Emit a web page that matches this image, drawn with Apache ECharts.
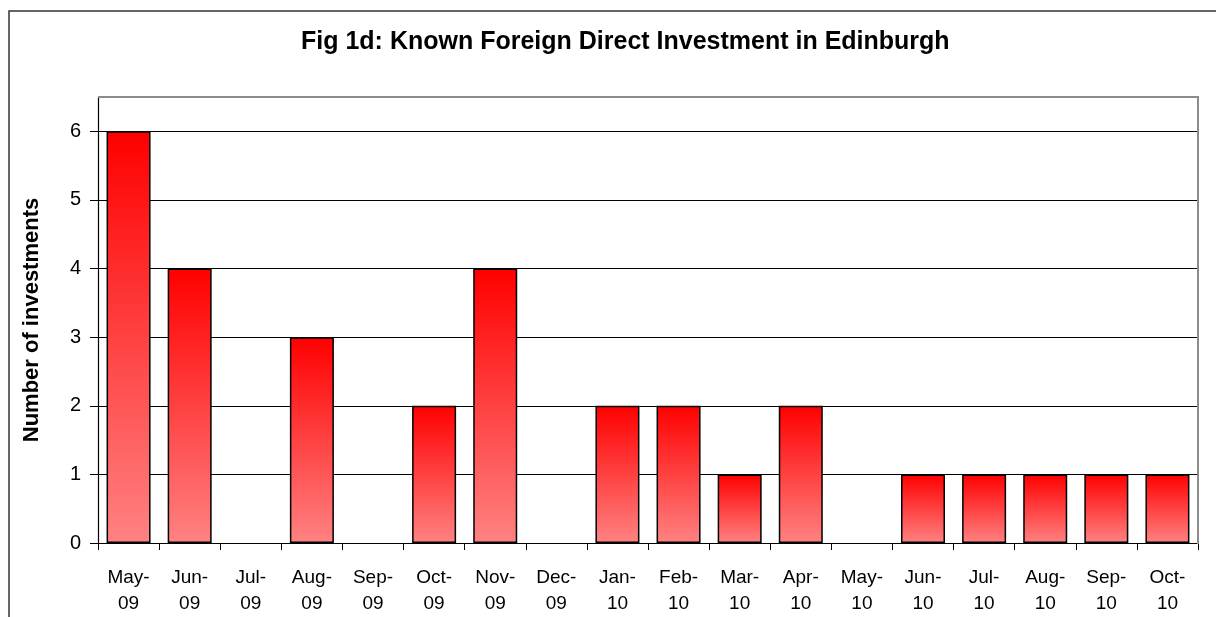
<!DOCTYPE html>
<html>
<head>
<meta charset="utf-8">
<script src="https://cdn.jsdelivr.net/npm/echarts@6/dist/echarts.min.js"></script>
<style>
  html, body { margin: 0; padding: 0; background: #fff; }
  #chart { width: 1216px; height: 617px; }
</style>
</head>
<body>
<div id="chart"></div>
<script>
// 月份
const months = ['May-\n09', 'Jun-\n09', 'Jul-\n09', 'Aug-\n09', 'Sep-\n09', 'Oct-\n09', 'Nov-\n09', 'Dec-\n09',
  'Jan-\n10', 'Feb-\n10', 'Mar-\n10', 'Apr-\n10', 'May-\n10', 'Jun-\n10', 'Jul-\n10', 'Aug-\n10', 'Sep-\n10', 'Oct-\n10']
// 投资数量
const investments = [6, 4, 0, 3, 0, 2, 4, 0, 2, 2, 1, 2, 0, 1, 1, 1, 1, 1]

const myChart = echarts.init(document.querySelector('#chart'))
const font = 'Liberation Sans, Arial, sans-serif'
const option = {
  animation: false,
  textStyle: { fontFamily: font },
  title: {
    text: 'Fig 1d: Known Foreign Direct Investment in Edinburgh',
    left: 296,
    top: 25,
    textStyle: { fontFamily: font, fontSize: 25, fontWeight: 'bold', color: '#000' }
  },
  graphic: [
    {
      type: 'rect',
      shape: { x: 9, y: 11, width: 1240, height: 640 },
      style: { fill: 'none', stroke: '#333', lineWidth: 1.5 },
      silent: true
    },
    {
      type: 'polyline',
      shape: { points: [[98, 97], [1198, 97], [1198, 544]] },
      style: { fill: 'none', stroke: '#8c8c8c', lineWidth: 2 },
      silent: true,
      z: 100
    }
  ],
  grid: { left: 98, right: 18, top: 97, bottom: 73 },
  xAxis: {
    type: 'category',
    data: months,
    axisLine: { lineStyle: { color: '#000', width: 1.2 } },
    axisTick: { show: true, length: 7, lineStyle: { color: '#000' } },
    axisLabel: { fontSize: 19, color: '#000', lineHeight: 26, margin: 22, interval: 0 }
  },
  yAxis: {
    type: 'value',
    min: 0,
    max: 6.5,
    interval: 1,
    name: 'Number of investments',
    nameLocation: 'middle',
    nameGap: 55,
    nameTextStyle: { fontSize: 22, fontWeight: 'bold', color: '#000' },
    axisLine: { show: true, lineStyle: { color: '#000', width: 1.2 } },
    axisTick: { show: true, length: 8, lineStyle: { color: '#000' } },
    axisLabel: { fontSize: 20, color: '#000', margin: 17, showMaxLabel: false },
    splitLine: { lineStyle: { color: '#000', width: 1 } }
  },
  series: [
    {
      type: 'bar',
      data: investments.map(v => ({ value: v, itemStyle: v === 0 ? { borderWidth: 0 } : {} })),
      barCategoryGap: '28%',
      itemStyle: {
        borderColor: '#000',
        borderWidth: 1.5,
        color: new echarts.graphic.LinearGradient(0, 0, 0, 1, [
          { offset: 0, color: '#ff0000' },
          { offset: 1, color: '#ff8282' }
        ])
      }
    }
  ]
}
myChart.setOption(option)
</script>
</body>
</html>
